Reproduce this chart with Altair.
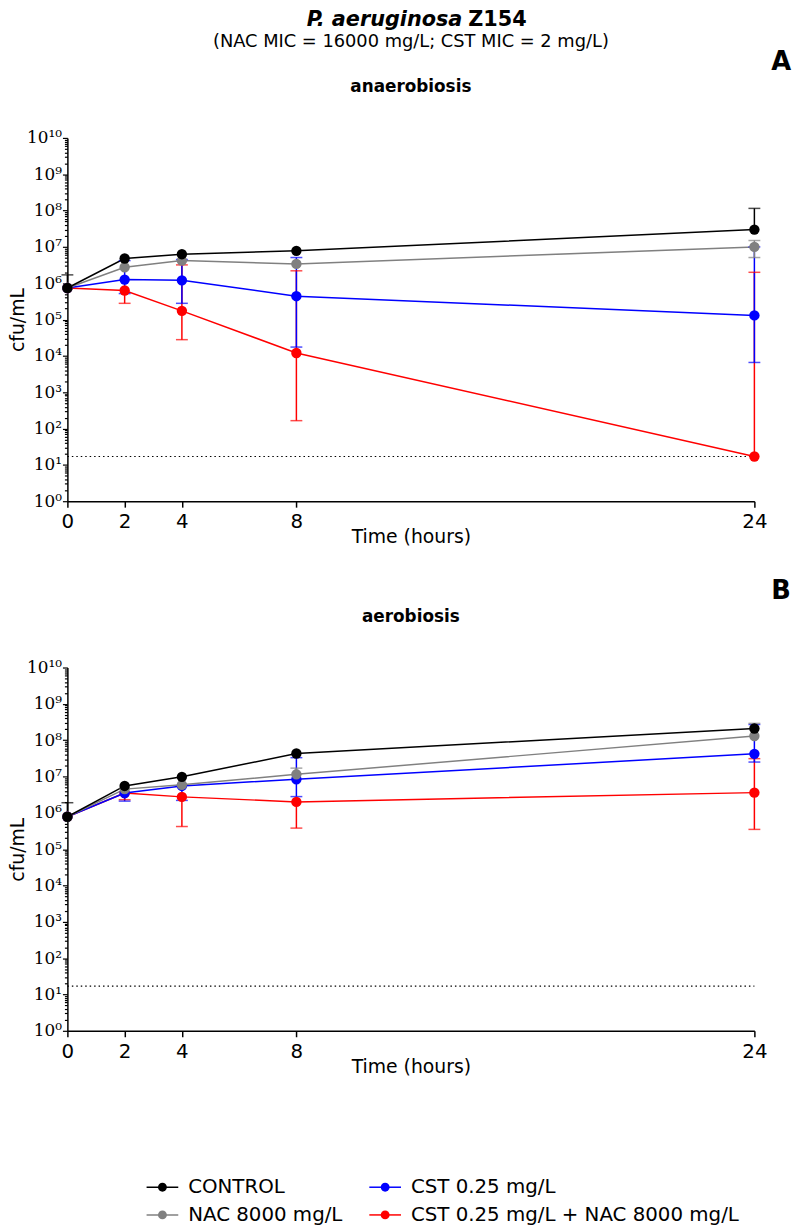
import altair as alt
import pandas as pd

# ---------------- data ----------------
times = [0, 2, 4, 8, 24]
series = ["CONTROL", "NAC 8000 mg/L", "CST 0.25 mg/L", "CST 0.25 mg/L + NAC 8000 mg/L"]
colors = ["#000000", "#808080", "#0000FF", "#FF0000"]
lod = 17  # limit of detection (dotted line)

# Panel A: anaerobiosis (cfu/mL), error bar ends (None = not visible)
a_control    = [7.4e5, 4.8e6, 6.3e6, 7.8e6, 3.0e7]
a_control_lo = [None, None, None, None, None]
a_control_hi = [1.7e6, None, None, None, 1.15e8]
a_nac        = [7.4e5, 2.75e6, 4.2e6, 3.4e6, 1.0e7]
a_nac_lo     = [None, None, None, None, 5.1e6]
a_nac_hi     = [None, None, None, None, 1.5e7]
a_cst        = [7.4e5, 1.26e6, 1.2e6, 4.4e5, 1.3e5]
a_cst_lo     = [None, 5.2e5, 2.8e5, 1.75e4, 6.6e3]
a_cst_hi     = [None, 4.2e6, 4.5e6, 5.1e6, 1.0e7]
a_combo      = [7.4e5, 6.3e5, 1.74e5, 1.2e4, 17]
a_combo_lo   = [None, 2.8e5, 2.8e4, 165, None]
a_combo_hi   = [None, None, 3.2e6, 2.2e6, 2.0e6]

# Panel B: aerobiosis
b_control    = [7.8e5, 5.5e6, 9.8e6, 4.3e7, 2.1e8]
b_control_lo = [None, None, None, None, None]
b_control_hi = [1.9e6, None, None, None, None]
b_nac        = [7.8e5, 4.5e6, 5.9e6, 1.15e7, 1.3e8]
b_nac_lo     = [None, None, None, None, None]
b_nac_hi     = [None, None, None, 1.7e7, 2.9e8]
b_cst        = [7.8e5, 3.5e6, 5.5e6, 8.4e6, 4.2e7]
b_cst_lo     = [None, 2.1e6, 2.2e6, 2.8e6, 2.5e7]
b_cst_hi     = [None, None, None, 3.3e7, 2.7e8]
b_combo      = [7.8e5, 3.5e6, 2.75e6, 2.0e6, 3.6e6]
b_combo_lo   = [None, 2.3e6, 4.2e5, 3.8e5, 3.5e5]
b_combo_hi   = [None, None, None, None, 3.1e7]

# legend layout (column / row of each entry)
legend_col = [0, 0, 1, 1]
legend_row = [0, 1, 0, 1]

# ---------------- helpers ----------------
def frames(vals, los, his):
    pts, bars, caps = [], [], []
    for s, v, lo, hi in reversed(list(zip(series, vals, los, his))):
        for t, yv, l, h in zip(times, v, lo, hi):
            pts.append({"series": s, "time": t, "cfu": yv})
            if l is not None or h is not None:
                bars.append({"series": s, "time": t,
                             "lo": l if l is not None else yv,
                             "hi": h if h is not None else yv})
            for c in (l, h):
                if c is not None:
                    caps.append({"series": s, "time": t, "cap": c})
    return pd.DataFrame(pts), pd.DataFrame(bars), pd.DataFrame(caps)

yvals = [m * 10 ** k for k in range(10) for m in range(1, 10)] + [10 ** 10]
major = "abs(log(datum.value)/LN10 - round(log(datum.value)/LN10)) < 0.000001"
sup = "['⁰','¹','²','³','⁴','⁵','⁶','⁷','⁸','⁹']"
label_expr = (f"({major}) ? '10' + (round(log(datum.value)/LN10) > 9 ? '¹⁰' : "
              f"{sup}[round(log(datum.value)/LN10)]) : ''")

xscale = alt.Scale(domain=[0, 24], nice=False, zero=False)
yscale = alt.Scale(type="log", domain=[1, 10 ** 10], nice=False)
cscale = alt.Scale(domain=series, range=colors)

xaxis = alt.Axis(values=times, grid=False, tickSize=6, tickWidth=1.5, tickColor="black",
                 domainColor="black", domainWidth=1.5, labelFont="DejaVu Sans",
                 labelFontSize=20, labelColor="black", labelPadding=5, labelFlush=False,
                 titleFont="DejaVu Sans", titleFontSize=19, titleFontWeight="normal",
                 titleColor="black", titlePadding=-4)
yaxis = alt.Axis(values=yvals, labelExpr=label_expr, labelOverlap=False, labelFlush=False,
                 grid=False,
                 tickSize={"condition": {"test": major, "value": 5}, "value": 3},
                 tickWidth=1.2, tickColor="black", domainColor="black", domainWidth=1.5,
                 labelFont="DejaVu Serif", labelFontSize=17, labelColor="black",
                 labelPadding=1, titleFont="DejaVu Sans", titleFontSize=19,
                 titleFontWeight="normal", titleColor="black", titlePadding=-1)


def X(f):
    return alt.X(f"{f}:Q", scale=xscale, axis=xaxis, title="Time (hours)")


def Y(f):
    return alt.Y(f"{f}:Q", scale=yscale, axis=yaxis, title="cfu/mL")


C = alt.Color("series:N", scale=cscale, legend=None)


def txt(text, x, y, size, weight="normal", style="normal", align="center"):
    return alt.Chart(pd.DataFrame({"t": [text]})).mark_text(
        fontSize=size, fontWeight=weight, fontStyle=style, align=align,
        baseline="alphabetic", font="DejaVu Sans", color="black"
    ).encode(x=alt.value(x), y=alt.value(y), text="t:N")


def panel(vals, los, his, letter, cond, main=False):
    pts, bars, caps = frames(vals, los, his)
    lod_line = alt.Chart(pd.DataFrame({"lod": [lod], "t0": [times[0]], "t1": [times[-1]]})).mark_rule(
        color="black", strokeWidth=1.2, strokeDash=[1.5, 3]
    ).encode(x=X("t0"), x2="t1:Q", y=Y("lod"))
    lines = alt.Chart(pts).mark_line(strokeWidth=1.5).encode(x=X("time"), y=Y("cfu"), color=C)
    ebar = alt.Chart(bars).mark_rule(strokeWidth=1.5).encode(x=X("time"), y=Y("lo"), y2="hi:Q", color=C)
    ecap = alt.Chart(caps).mark_tick(orient="horizontal", size=12, thickness=1.5).encode(
        x=X("time"), y=Y("cap"), color=C)
    points = alt.Chart(pts).mark_point(filled=True, size=110, opacity=1).encode(
        x=X("time"), y=Y("cfu"), color=C)
    texts = [txt(letter, 721, -69, 26, weight="bold"), txt(cond, 347, -46, 17, weight="bold")]
    if main:
        texts += [
            txt("P. aeruginosa", 399, -113, 21, weight="bold", style="italic", align="right"),
            txt("Z154", 405, -113, 21, weight="bold", align="left"),
            txt("(NAC MIC = 16000 mg/L; CST MIC = 2 mg/L)", 347, -92, 18),
        ]
    return alt.layer(lod_line, lines, ebar, ecap, points, *texts).properties(width=694, height=367)


panel_a = panel([a_control, a_nac, a_cst, a_combo],
                [a_control_lo, a_nac_lo, a_cst_lo, a_combo_lo],
                [a_control_hi, a_nac_hi, a_cst_hi, a_combo_hi],
                "A", "anaerobiosis", main=True)
panel_b = panel([b_control, b_nac, b_cst, b_combo],
                [b_control_lo, b_nac_lo, b_cst_lo, b_combo_lo],
                [b_control_hi, b_nac_hi, b_cst_hi, b_combo_hi],
                "B", "aerobiosis")

leg_df = pd.DataFrame({"series": series, "col": legend_col, "row": legend_row})
lx = alt.X("col:Q", scale=alt.Scale(domain=[0, 1], range=[96, 321]), axis=None)
ly = alt.Y("row:Q", scale=alt.Scale(domain=[0, 1], range=[80, 108]), axis=None)
leg_base = alt.Chart(leg_df)
legend = alt.layer(
    leg_base.mark_rule(strokeWidth=1.5, xOffset=-16, x2Offset=16).encode(x=lx, x2="col:Q", y=ly, color=C),
    leg_base.mark_point(filled=True, size=80, opacity=1).encode(x=lx, y=ly, color=C),
    leg_base.mark_text(align="left", baseline="middle", dx=26, fontSize=20,
                       font="DejaVu Sans", color="black").encode(x=lx, y=ly, text="series:N"),
).properties(width=694, height=120)

chart = alt.vconcat(panel_a, panel_b, legend, spacing=32).resolve_scale(
    x="independent", y="independent"
).properties(
    padding={"top": -5, "left": 0, "right": 0, "bottom": 0}
).configure(background="white").configure_view(stroke=None)

chart.save("out.html", embed_options={"renderer": "svg", "actions": False})
